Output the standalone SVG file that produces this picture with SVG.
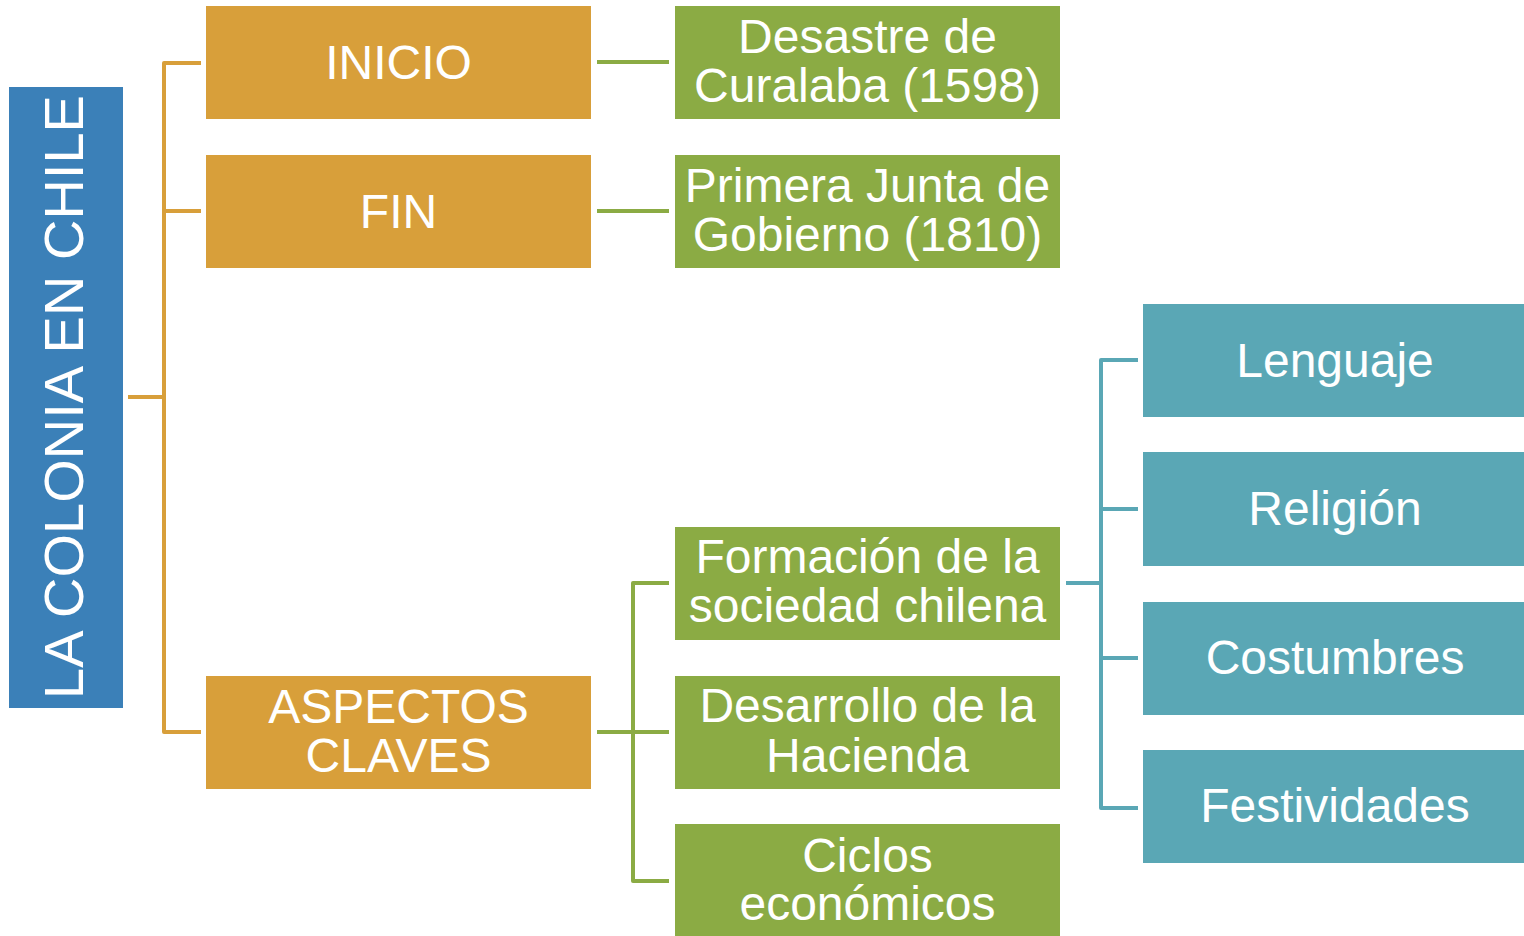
<svg xmlns="http://www.w3.org/2000/svg" width="1524" height="936" viewBox="0 0 1524 936">
<style>
.t{font-family:"Liberation Sans",Arial,sans-serif;font-size:48px;fill:#fff;text-anchor:middle}
.o{fill:#D89F3A}
.g{fill:#8BAB44}
.c{fill:#5AA7B5}
.b{fill:#3B80B8}
.lo{stroke:#D89F3A;stroke-width:4;fill:none;stroke-linejoin:round}
.lg{stroke:#8BAB44;stroke-width:4;fill:none;stroke-linejoin:round}
.lc{stroke:#5AA7B5;stroke-width:4;fill:none;stroke-linejoin:round}
</style>
<rect width="1524" height="936" fill="#fff"/>
<g id="connectors">
<path class="lo" d="M201,63 H164 V732 H201 M164,211 H201 M128,397 H164"/>
<path class="lg" d="M597,62 H669 M597,211 H669 M597,732 H633 M669,583 H633 V881 H669 M633,732 H669"/>
<path class="lc" d="M1066,583 H1101 M1138,360 H1101 V808 H1138 M1101,509 H1138 M1101,658 H1138"/>
</g>
<g id="root">
<rect class="b" x="9" y="87" width="114" height="621"/>
<text class="t" style="font-size:56px" transform="translate(83,397) rotate(-90)" x="0" y="0">LA COLONIA EN CHILE</text>
</g>
<g id="inicio">
<rect class="o" x="206" y="6" width="385" height="113"/>
<text class="t" x="398.5" y="79">INICIO</text>
</g>
<g id="fin">
<rect class="o" x="206" y="155" width="385" height="113"/>
<text class="t" x="398.5" y="228">FIN</text>
</g>
<g id="aspectos">
<rect class="o" x="206" y="676" width="385" height="113"/>
<text class="t" x="398.5" y="723">ASPECTOS</text>
<text class="t" x="398.5" y="772">CLAVES</text>
</g>
<g id="curalaba">
<rect class="g" x="675" y="6" width="385" height="113"/>
<text class="t" x="867.5" y="53">Desastre de</text>
<text class="t" x="867.5" y="102">Curalaba (1598)</text>
</g>
<g id="junta">
<rect class="g" x="675" y="155" width="385" height="113"/>
<text class="t" x="867.5" y="202">Primera Junta de</text>
<text class="t" x="867.5" y="251">Gobierno (1810)</text>
</g>
<g id="formacion">
<rect class="g" x="675" y="527" width="385" height="113"/>
<text class="t" x="867.5" y="573">Formación de la</text>
<text class="t" x="867.5" y="622">sociedad chilena</text>
</g>
<g id="hacienda">
<rect class="g" x="675" y="676" width="385" height="113"/>
<text class="t" x="867.5" y="722">Desarrollo de la</text>
<text class="t" x="867.5" y="772">Hacienda</text>
</g>
<g id="ciclos">
<rect class="g" x="675" y="824" width="385" height="113"/>
<text class="t" x="867.5" y="872">Ciclos</text>
<text class="t" x="867.5" y="920">económicos</text>
</g>
<g id="lenguaje">
<rect class="c" x="1143" y="304" width="381" height="113"/>
<text class="t" x="1335" y="377">Lenguaje</text>
</g>
<g id="religion">
<rect class="c" x="1143" y="452" width="381" height="114"/>
<text class="t" x="1335" y="525">Religión</text>
</g>
<g id="costumbres">
<rect class="c" x="1143" y="602" width="381" height="113"/>
<text class="t" x="1335" y="674">Costumbres</text>
</g>
<g id="festividades">
<rect class="c" x="1143" y="750" width="381" height="113"/>
<text class="t" x="1335" y="822">Festividades</text>
</g>
</svg>
